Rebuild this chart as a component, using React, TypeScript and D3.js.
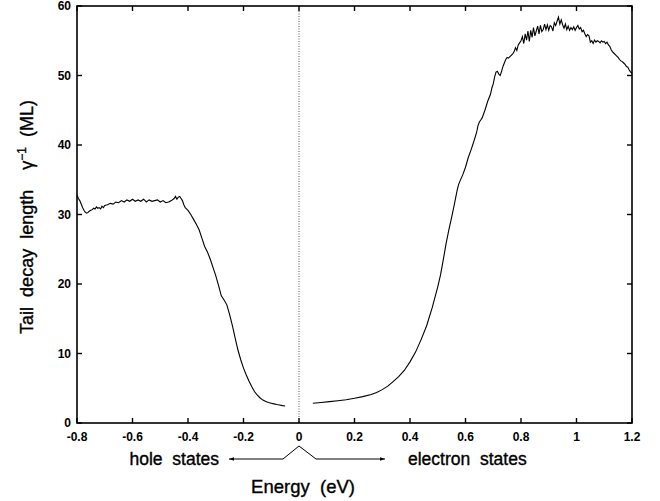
import React from "react";
import * as d3 from "d3";

const xTicks = [-0.8, -0.6, -0.4, -0.2, 0, 0.2, 0.4, 0.6, 0.8, 1, 1.2];
const xTickLabels = ["-0.8", "-0.6", "-0.4", "-0.2", "0", "0.2", "0.4", "0.6", "0.8", "1", "1.2"];
const yTicks = [0, 10, 20, 30, 40, 50, 60];
const yTickLabels = ["0", "10", "20", "30", "40", "50", "60"];

// hole-state branch
const holeX = [
  -0.8, -0.795, -0.79, -0.785, -0.78, -0.775, -0.77, -0.765, -0.76, -0.755, -0.75, -0.745, -0.74, -0.735,
  -0.73, -0.725, -0.72, -0.715, -0.71, -0.705, -0.7, -0.69, -0.68, -0.67, -0.66, -0.65, -0.64, -0.63,
  -0.62, -0.61, -0.6, -0.59, -0.58, -0.57, -0.56, -0.55, -0.54, -0.53, -0.52, -0.51, -0.5, -0.49, -0.48,
  -0.47, -0.46, -0.45, -0.445, -0.44, -0.435, -0.43, -0.425, -0.42, -0.415, -0.41, -0.4, -0.39, -0.38,
  -0.37, -0.36, -0.35, -0.34, -0.33, -0.32, -0.31, -0.3, -0.29, -0.28, -0.27, -0.26, -0.25, -0.24, -0.23,
  -0.22, -0.21, -0.2, -0.19, -0.18, -0.17, -0.16, -0.15, -0.14, -0.13, -0.12, -0.11, -0.1, -0.09, -0.08,
  -0.07, -0.06, -0.05,
];
const holeY = [
  32.8, 32.3, 32.0, 31.5, 31.0, 30.6, 30.3, 30.2, 30.3, 30.5, 30.6, 30.7, 30.9, 30.8,
  31.1, 30.9, 31.0, 30.8, 31.2, 31.0, 31.3, 31.4, 31.6, 31.5, 31.8, 31.7, 32.0, 31.8,
  32.1, 31.9, 32.2, 31.9, 32.1, 31.9, 32.2, 31.8, 32.1, 31.9, 32.0, 32.1, 31.8, 32.0, 31.7,
  31.8, 32.0, 32.3, 32.6, 32.2, 32.5, 32.6, 32.3, 32.0, 31.4, 31.0, 30.6, 30.0, 29.3,
  28.6, 27.8, 26.6, 25.4, 24.6, 23.6, 22.4, 21.2, 19.8, 18.3, 17.7, 17.0, 15.6, 14.0, 12.2,
  10.5, 9.1, 7.9, 6.9, 6.0, 5.2, 4.5, 4.0, 3.6, 3.3, 3.1, 2.95, 2.85, 2.75, 2.65,
  2.58, 2.5, 2.45,
];

// electron-state branch
const electronX = [
  0.05, 0.08, 0.11, 0.14, 0.17, 0.2, 0.23, 0.26, 0.28, 0.3, 0.32, 0.34, 0.36, 0.38, 0.4, 0.42, 0.44,
  0.46, 0.48, 0.5, 0.51, 0.52, 0.53, 0.54, 0.55, 0.56, 0.57, 0.575, 0.58, 0.59, 0.6, 0.61, 0.62, 0.63,
  0.64, 0.645, 0.65, 0.655, 0.66, 0.67, 0.68, 0.69, 0.695, 0.7, 0.705, 0.71, 0.715, 0.72, 0.725, 0.73,
  0.735, 0.74, 0.745, 0.75, 0.755, 0.76, 0.765, 0.77, 0.775, 0.78, 0.785, 0.79, 0.795, 0.8, 0.805,
  0.81, 0.815, 0.82, 0.825, 0.83, 0.835, 0.84, 0.845, 0.85, 0.855, 0.86, 0.865, 0.87, 0.875, 0.88,
  0.885, 0.89, 0.895, 0.9, 0.905, 0.91, 0.915, 0.92, 0.925, 0.93, 0.935, 0.94, 0.945, 0.95, 0.955,
  0.96, 0.965, 0.97, 0.975, 0.98, 0.985, 0.99, 0.995, 1.0, 1.005, 1.01, 1.015, 1.02, 1.025, 1.03,
  1.035, 1.04, 1.045, 1.05, 1.055, 1.06, 1.065, 1.07, 1.075, 1.08, 1.085, 1.09, 1.095, 1.1, 1.105,
  1.11, 1.115, 1.12, 1.125, 1.13, 1.135, 1.14, 1.145, 1.15, 1.155, 1.16, 1.165, 1.17, 1.175, 1.18,
  1.185, 1.19, 1.195, 1.2,
];
const electronY = [
  2.85, 2.95, 3.07, 3.2, 3.35, 3.55, 3.8, 4.1, 4.4, 4.8, 5.3, 6.0, 6.7, 7.6, 8.8, 10.2, 12.0,
  14.0, 16.6, 19.6, 21.3, 23.5, 25.8, 27.8, 29.6, 31.5, 33.5, 34.3, 34.8, 35.7, 36.8, 38.2, 39.3, 40.5,
  41.8, 42.8, 43.3, 43.6, 43.9, 45.0, 46.3, 47.3, 48.2, 48.8, 49.8, 50.5, 50.6, 50.2, 50.0, 50.6,
  51.3, 51.8, 52.3, 52.6, 52.5, 52.7, 52.9, 53.1, 53.4, 54.0, 53.6, 54.4, 54.7, 55.0, 55.6,
  54.6, 56.0, 55.1, 56.4, 54.9, 56.5, 55.5, 56.9, 55.7, 56.4, 57.1, 56.0, 57.2, 56.3, 56.6,
  57.4, 56.6, 57.3, 56.5, 57.2, 57.0, 56.4, 57.6, 57.2, 57.8, 58.4, 57.4, 58.0, 57.3, 56.8,
  57.4, 56.6, 57.1, 56.5, 56.9, 56.6, 57.0, 56.5, 56.9, 57.2, 56.7, 56.9, 56.3, 56.5, 56.0,
  55.6, 55.9, 55.7, 54.8, 55.0, 54.6, 55.1, 54.8, 55.0, 54.9, 54.7, 55.0, 54.8, 54.9, 54.6,
  54.8, 54.4, 54.2, 53.7, 53.4, 53.2, 53.0, 52.8, 52.6, 52.3, 52.1, 52.0, 51.8, 51.6, 51.3,
  51.2, 50.8, 50.5, 50.3,
];

const W = 660;
const H = 501;
const L = 77;
const R = 632;
const T = 6;
const B = 423;
const FONT = "'Liberation Sans', Arial, Helvetica, sans-serif";

export default function App() {
  const x = d3.scaleLinear().domain([-0.8, 1.2]).range([L, R]);
  const y = d3.scaleLinear().domain([0, 60]).range([B, T]);
  const line = d3
    .line<[number, number]>()
    .x((d) => x(d[0]))
    .y((d) => y(d[1]));
  const hole: [number, number][] = holeX.map((v, i) => [v, holeY[i]]);
  const elec: [number, number][] = electronX.map((v, i) => [v, electronY[i]]);
  const tk = 5;
  const x0 = x(0);
  const arrowY = 459;
  const labelStroke = { stroke: "#000", strokeWidth: 0.35 };

  return (
    <div style={{ position: "absolute", left: 0, top: 0 }}>
      <svg width={W} height={H} style={{ display: "block", background: "#fff" }}>
        <defs>
          <marker id="ah" viewBox="0 0 10 10" refX="10" refY="5" markerWidth="7" markerHeight="5" orient="auto">
            <path d="M0,1.5 L10,5 L0,8.5 z" fill="#000" />
          </marker>
        </defs>
        {/* zero line */}
        <line x1={x0} x2={x0} y1={T} y2={B} stroke="#555" strokeWidth={1} strokeDasharray="1,1.5" />
        {/* frame */}
        <rect x={L} y={T} width={R - L} height={B - T} fill="none" stroke="#000" strokeWidth={1.6} />
        {/* x ticks */}
        {xTicks.map((v, i) => (
          <g key={"x" + i}>
            <line x1={x(v)} x2={x(v)} y1={B} y2={B - tk} stroke="#000" strokeWidth={1.4} />
            <line x1={x(v)} x2={x(v)} y1={T} y2={T + tk} stroke="#000" strokeWidth={1.4} />
            <text x={x(v)} y={441} textAnchor="middle" fontFamily={FONT} fontSize={12} fontWeight="bold">
              {xTickLabels[i]}
            </text>
          </g>
        ))}
        {/* y ticks */}
        {yTicks.map((v, i) => (
          <g key={"y" + i}>
            <line x1={L} x2={L + tk} y1={y(v)} y2={y(v)} stroke="#000" strokeWidth={1.4} />
            <line x1={R} x2={R - tk} y1={y(v)} y2={y(v)} stroke="#000" strokeWidth={1.4} />
            <text x={71} y={y(v) + 4.3} textAnchor="end" fontFamily={FONT} fontSize={12} fontWeight="bold">
              {yTickLabels[i]}
            </text>
          </g>
        ))}
        {/* data */}
        <path d={line(hole) || ""} fill="none" stroke="#000" strokeWidth={1.1} />
        <path d={line(elec) || ""} fill="none" stroke="#000" strokeWidth={1.1} />
        {/* y label */}
        <text
          transform={`translate(33,217) rotate(-90)`}
          textAnchor="middle"
          fontFamily={FONT}
          fontSize={18}
          {...labelStroke}
        >
          Tail{"\u00A0\u00A0"}decay{"\u00A0\u00A0"}length{"\u00A0\u00A0\u00A0\u00A0"}γ
          <tspan dy={-7} fontSize={12}>−1</tspan>
          <tspan dy={7}>{"\u00A0\u00A0"}(ML)</tspan>
        </text>
        {/* annotation arrows */}
        <path
          d={`M${x0 - 16},${arrowY} L${x0},${446} L${x0 + 17},${arrowY}`}
          fill="none"
          stroke="#000"
          strokeWidth={1}
        />
        <line x1={x0 - 16} x2={229} y1={arrowY} y2={arrowY} stroke="#000" strokeWidth={1} markerEnd="url(#ah)" />
        <line x1={x0 + 17} x2={385} y1={arrowY} y2={arrowY} stroke="#000" strokeWidth={1} markerEnd="url(#ah)" />
        <text x={219} y={465} textAnchor="end" fontFamily={FONT} fontSize={17.5} {...labelStroke}>
          hole{"\u00A0\u00A0"}states
        </text>
        <text x={408} y={465} textAnchor="start" fontFamily={FONT} fontSize={17.5} {...labelStroke}>
          electron{"\u00A0\u00A0"}states
        </text>
        <text x={303} y={493} textAnchor="middle" fontFamily={FONT} fontSize={18.5} {...labelStroke}>
          Energy{"\u00A0\u00A0"}(eV)
        </text>
      </svg>
    </div>
  );
}
